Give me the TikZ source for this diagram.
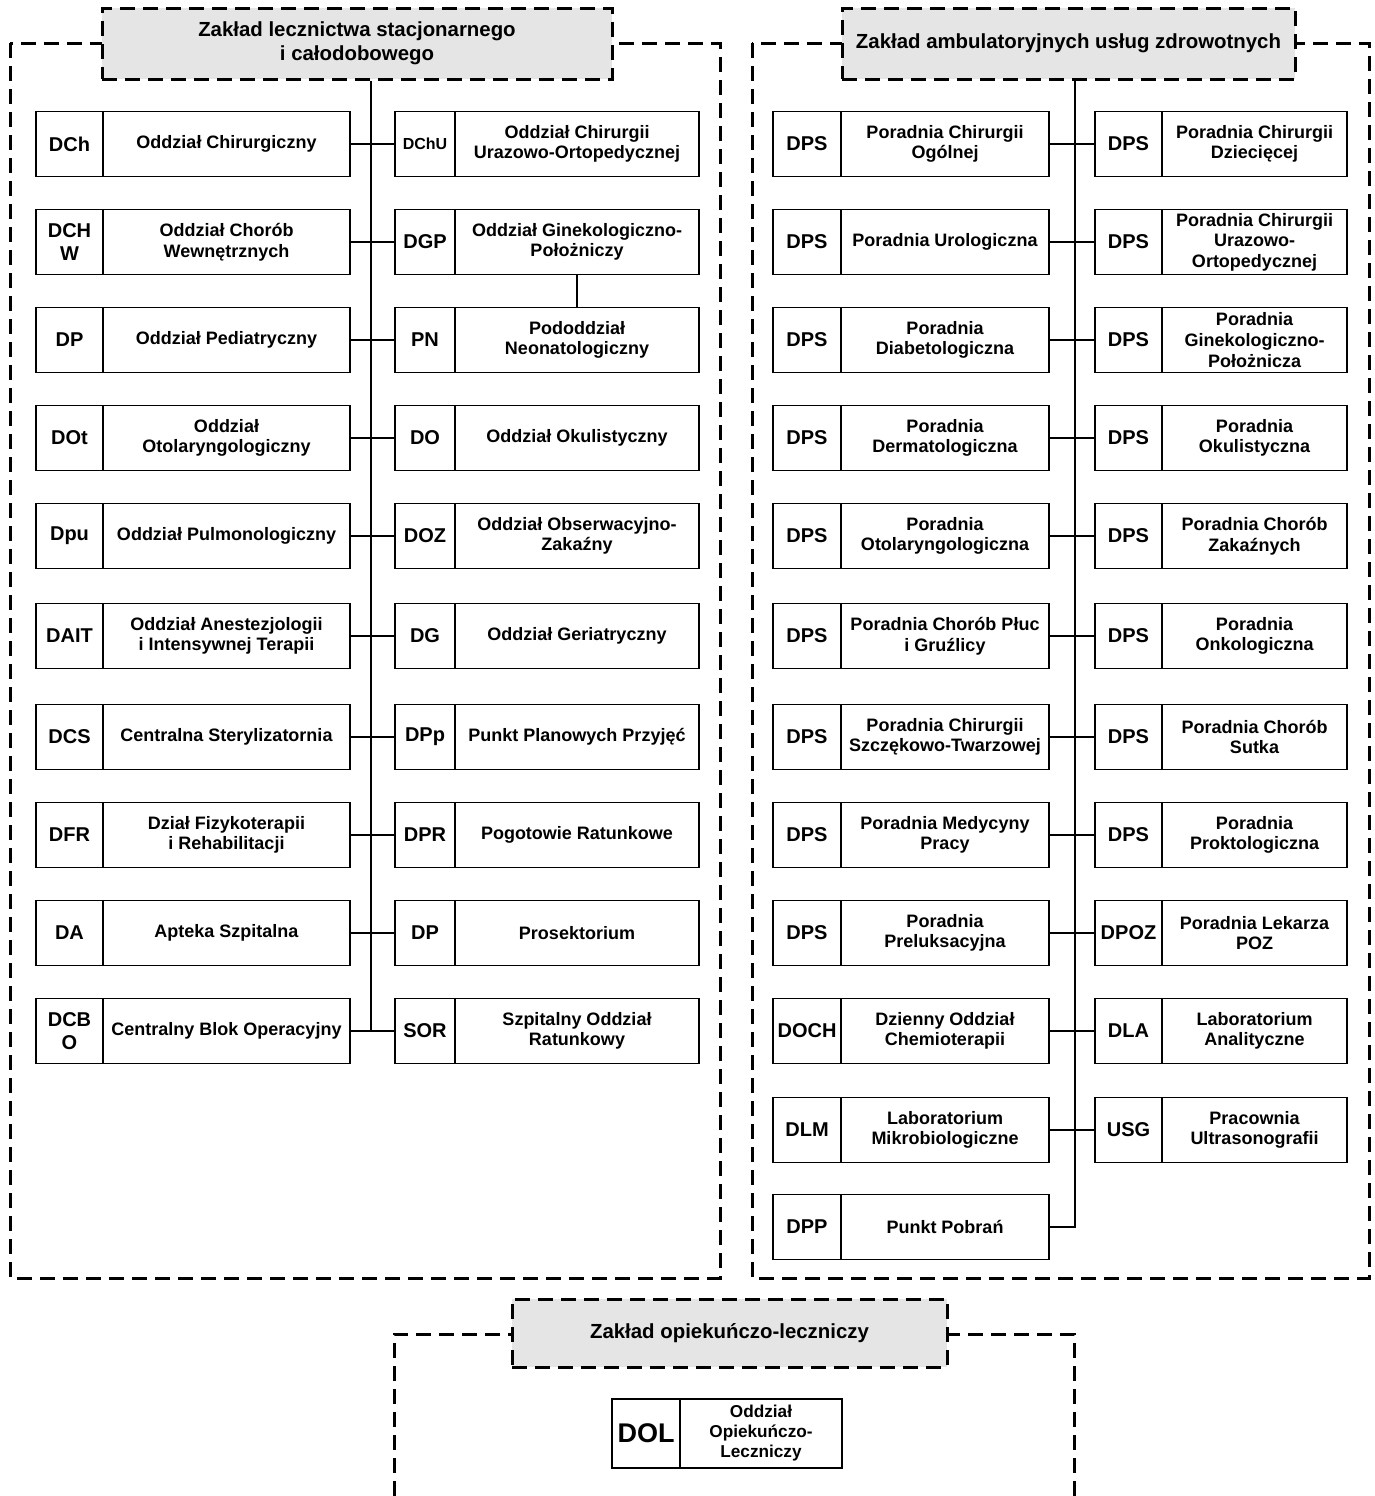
\documentclass[tikz,border=0pt]{standalone}
\usepackage{fontspec}
\setmainfont{Liberation Sans}
\usetikzlibrary{positioning}

\tikzset{
  grpframe/.style={line width=1.5pt, dash pattern=on 7.5pt off 4pt},
  hdr/.style={grpframe, draw, fill=black!10, align=center, inner sep=2pt, font=\fontsize{10.2}{12}\selectfont\bfseries},
  unitcode/.style={draw, line width=0.8pt, outer sep=0pt, minimum height=32.5pt, inner xsep=1pt, inner ysep=0.5pt, align=center, font=\fontsize{10}{11.5}\selectfont\bfseries},
  unitname/.style={unitcode, font=\fontsize{9}{10.3}\selectfont\bfseries},
  conn/.style={line width=0.8pt}
}

\begin{document}
\begin{tikzpicture}[x=0.5pt,y=-0.5pt]
\useasboundingbox (0,0) rectangle (1375,1496);

% dashed group frames
\draw[grpframe] (10,43) rectangle (720,1278);
\draw[grpframe] (752,43) rectangle (1369,1278);
\draw[grpframe] (394,1496) -- (394,1334) -- (1074,1334) -- (1074,1496);

% group headers
\node[hdr, minimum width=255pt, minimum height=35.5pt] (hdrL) at (357,43.5) {Zakład lecznictwa stacjonarnego\\i całodobowego};
\node[hdr, minimum width=226.5pt, minimum height=35.5pt] (hdrR) at (1068.5,43.5) {Zakład ambulatoryjnych usług zdrowotnych};
\node[hdr, minimum width=217.5pt, minimum height=34pt] (hdrB) at (729.5,1333) {Zakład opiekuńczo-leczniczy};

% stacjonarny, left column
\foreach \y/\cd/\tx [count=\i] in {144/DCh/Oddział Chirurgiczny,
  242/{DCH\\W}/{Oddział Chorób\\Wewnętrznych},
  340/DP/Oddział Pediatryczny,
  438/DOt/{Oddział\\Otolaryngologiczny},
  536/Dpu/Oddział Pulmonologiczny,
  636/DAIT/{Oddział Anestezjologii\\i Intensywnej Terapii},
  737/DCS/Centralna Sterylizatornia,
  835/DFR/{Dział Fizykoterapii\\i Rehabilitacji},
  933/DA/Apteka Szpitalna,
  1031/{DCB\\O}/Centralny Blok Operacyjny}
{
  \node[unitcode, minimum width=33.5pt] (a\i) at (69.5,\y) {\cd};
  \node[unitname, minimum width=123.5pt, right=0pt of a\i] (an\i) {\tx};
}

% stacjonarny, right column
\foreach \y/\cd/\tx [count=\i] in {144/{\fontsize{8}{9}\selectfont DChU}/{Oddział Chirurgii\\Urazowo-Ortopedycznej},
  242/DGP/{Oddział Ginekologiczno-\\Położniczy},
  340/PN/{Pododdział\\Neonatologiczny},
  438/DO/Oddział Okulistyczny,
  536/DOZ/{Oddział Obserwacyjno-\\Zakaźny},
  636/DG/Oddział Geriatryczny,
  737/DPp/Punkt Planowych Przyjęć,
  835/DPR/Pogotowie Ratunkowe,
  933/DP/Prosektorium,
  1031/SOR/{Szpitalny Oddział\\Ratunkowy}}
{
  \node[unitcode, minimum width=30pt] (b\i) at (425,\y) {\cd};
  \node[unitname, minimum width=122pt, right=0pt of b\i] (bn\i) {\tx};
}

% ambulatoryjny, left column
\foreach \y/\cd/\tx [count=\i] in {144/DPS/{Poradnia Chirurgii\\Ogólnej},
  242/DPS/Poradnia Urologiczna,
  340/DPS/{Poradnia\\Diabetologiczna},
  438/DPS/{Poradnia\\Dermatologiczna},
  536/DPS/{Poradnia\\Otolaryngologiczna},
  636/DPS/{Poradnia Chorób Płuc\\i Gruźlicy},
  737/DPS/{Poradnia Chirurgii\\Szczękowo-Twarzowej},
  835/DPS/{Poradnia Medycyny\\Pracy},
  933/DPS/{Poradnia\\Preluksacyjna},
  1031/DOCH/{Dzienny Oddział\\Chemioterapii},
  1130/DLM/{Laboratorium\\Mikrobiologiczne},
  1227/DPP/Punkt Pobrań}
{
  \node[unitcode, minimum width=34pt] (c\i) at (807,\y) {\cd};
  \node[unitname, minimum width=104pt, right=0pt of c\i] (cn\i) {\tx};
}

% ambulatoryjny, right column
\foreach \y/\cd/\tx [count=\i] in {144/DPS/{Poradnia Chirurgii\\Dziecięcej},
  242/DPS/{Poradnia Chirurgii\\Urazowo-\\Ortopedycznej},
  340/DPS/{Poradnia\\Ginekologiczno-\\Położnicza},
  438/DPS/{Poradnia\\Okulistyczna},
  536/DPS/{Poradnia Chorób\\Zakaźnych},
  636/DPS/{Poradnia\\Onkologiczna},
  737/DPS/{Poradnia Chorób\\Sutka},
  835/DPS/{Poradnia\\Proktologiczna},
  933/DPOZ/{Poradnia Lekarza\\POZ},
  1031/DLA/{Laboratorium\\Analityczne},
  1130/USG/{Pracownia\\Ultrasonografii}}
{
  \node[unitcode, minimum width=33.5pt] (d\i) at (1128.5,\y) {\cd};
  \node[unitname, minimum width=92.5pt, right=0pt of d\i] (dn\i) {\tx};
}

% opiekunczo-leczniczy
\node[unitcode, minimum width=34pt, minimum height=34.5pt, font=\fontsize{13.5}{15}\selectfont\bfseries] (dol) at (646,1433.5) {DOL};
\node[unitname, minimum width=81pt, minimum height=34.5pt, font=\fontsize{8.6}{10}\selectfont\bfseries, right=0pt of dol] (doln) {Oddział\\Opiekuńczo-\\Leczniczy};

% connectors
\coordinate (tL) at (371,0);
\coordinate (tR) at (1075,0);
\draw[conn] (hdrL.south -| tL) -- (tL |- an10.east);
\foreach \i in {1,...,10}
  \draw[conn] (an\i.east) -- (b\i.west);
\draw[conn] (bn2.south) -- (bn3.north);

\draw[conn] (hdrR.south -| tR) -- (tR |- cn12.east) -- (cn12.east);
\foreach \i in {1,...,11}
  \draw[conn] (cn\i.east) -- (d\i.west);
\end{tikzpicture}
\end{document}
